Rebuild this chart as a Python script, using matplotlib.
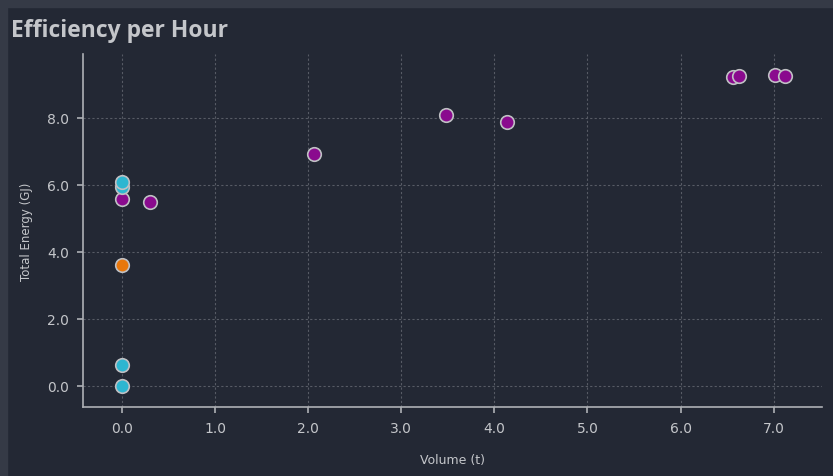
import matplotlib.pyplot as plt
from matplotlib.patches import Rectangle

# data
purple_x = [0.0, 0.30, 2.06, 3.48, 4.14, 6.56, 6.63, 7.02, 7.12]
purple_y = [5.58, 5.50, 6.92, 8.08, 7.87, 9.22, 9.25, 9.26, 9.25]
cyan_x = [0.0, 0.0, 0.0, 0.0]
cyan_y = [0.0, 0.62, 5.94, 6.09]
orange_x = [0.0]
orange_y = [3.62]

xticks = [0, 1, 2, 3, 4, 5, 6, 7]
yticks = [0, 2, 4, 6, 8]

bg = '#232834'
fg = '#c4c6ca'
grid_c = '#575b65'

fig = plt.figure(figsize=(8.33, 4.77), dpi=100, facecolor=bg)
# lighter frame along top and left edges
fig.patches.append(Rectangle((0, 1 - 8 / 477), 1, 8 / 477, transform=fig.transFigure,
                             color='#353a46', zorder=0))
fig.patches.append(Rectangle((0, 0), 7 / 833, 1, transform=fig.transFigure,
                             color='#353a46', zorder=0))

ax = fig.add_axes([83 / 833, 1 - 408 / 477, (822 - 83) / 833, (408 - 55) / 477])
ax.set_facecolor(bg)

ax.set_xlim(-0.42, 7.52)
ax.set_ylim(-0.63, 9.9)

ax.grid(True, color=grid_c, linestyle=(0, (2, 2)), linewidth=0.8)
ax.set_axisbelow(True)

kw = dict(s=95, edgecolors='#bfc0c4', linewidths=1.2, zorder=3)
ax.scatter(purple_x, purple_y, c='#8a0a8e', **kw)
ax.scatter(cyan_x, cyan_y, c='#2db6d1', **kw)
ax.scatter(orange_x, orange_y, c='#e8770c', **kw)

ax.set_xticks(xticks)
ax.set_xticklabels([f'{v:.1f}' for v in xticks])
ax.set_yticks(yticks)
ax.set_yticklabels([f'{v:.1f}' for v in yticks])

for s in ['top', 'right']:
    ax.spines[s].set_visible(False)
for s in ['left', 'bottom']:
    ax.spines[s].set_color('#aeb0b5')
    ax.spines[s].set_linewidth(1.2)

ax.tick_params(colors='#aeb0b5', labelcolor=fg, labelsize=10, length=4, width=1.2, pad=6)

ax.set_xlabel('Volume (t)', color=fg, fontsize=9, labelpad=13)
ax.set_ylabel('Total Energy (GJ)', color=fg, fontsize=8.5, labelpad=10)

fig.text(11 / 833, 1 - 31 / 477, 'Efficiency per Hour', color=fg, fontsize=16.5,
         fontweight='bold', va='center', ha='left', family='Open Sans')

fig.savefig('out.png', dpi=100, facecolor=bg)
